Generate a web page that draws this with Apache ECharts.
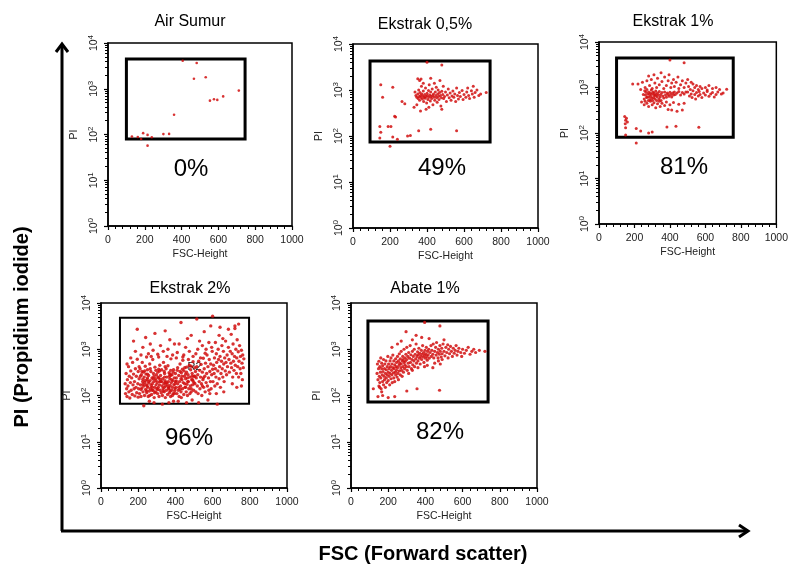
<!DOCTYPE html>
<html>
<head>
<meta charset="utf-8">
<script src="https://cdn.jsdelivr.net/npm/echarts@6/dist/echarts.min.js"></script>
<style>
html,body{margin:0;padding:0;background:#fff;}
#c{width:791px;height:571px;}
</style>
</head>
<body>
<div id="c"></div>
<script>
// ---------- DATA ----------
const titles = ['Air Sumur', 'Ekstrak 0,5%', 'Ekstrak 1%', 'Ekstrak 2%', 'Abate 1%'];
const percents = ['0%', '49%', '81%', '96%', '82%'];
const gateNames = ['', '', '', 'R2', ''];
const xTickValues = [0, 200, 400, 600, 800, 1000];
const yTickValues = [1, 10, 100, 1000, 10000];
const xAxisName = 'FSC-Height';
const yAxisName = 'PI';
const outerXLabel = 'FSC (Forward scatter)';
const outerYLabel = 'PI (Propidium iodide)';

// gates: [[FSC left, PI top], [FSC right, PI bottom]]
const gates = [
  [[100, 4470], [745, 80]],
  [[92, 4260], [741, 74]],
  [[99, 4470], [757, 81]],
  [[102, 4770], [796, 66]],
  [[91, 4070], [737, 72]]
];

const airSumur = [
  [406,4100],[482,3650],[467,1650],[531,1780],[711,910],[626,680],[576,590],[594,570],[554,550],
  [359,270],[332,103],[301,102],[215,98],[191,107],[162,88],[180,80],[215,57],[238,87],[130,90]
];

const ekstrak05 = [
  [400,4000],[480,3500],[150,1300],[160,700],[215,1150],[265,560],[280,500],[225,270],[230,260],
  [145,160],[150,120],[145,90],[190,160],[205,160],[215,95],[240,85],[200,60],[295,100],[310,102],
  [355,130],[420,140],[560,130],[368,1730],
  [335,900],[340,760],[345,700],[350,820],[352,650],[355,1000],[358,720],[360,600],[362,880],[365,760],
  [368,690],[370,1200],[372,820],[375,640],[378,740],[380,950],[382,560],[385,700],[388,800],[390,660],
  [392,1100],[395,720],[398,520],[400,850],[402,760],[405,620],[408,980],[410,700],[412,1300],[415,780],
  [418,580],[420,900],[422,720],[425,650],[428,1050],[430,760],[432,480],[435,820],[438,700],[440,1400],
  [442,600],[445,900],[448,760],[450,1150],[452,680],[455,540],[458,820],[460,1000],[462,720],[465,620],
  [468,880],[470,1600],[472,760],[475,450],[478,680],[480,940],[485,800],[488,1200],[490,650],[495,720],
  [500,900],[505,560],[510,780],[515,1050],[520,680],[525,860],[530,600],[535,740],[540,950],[545,700],
  [550,820],[555,560],[560,1100],[565,760],[570,640],[575,880],[580,720],[590,980],[595,620],[600,800],
  [610,700],[615,900],[620,1100],[625,760],[630,650],[640,960],[645,820],[650,1200],[655,700],[660,880],
  [670,1000],[680,760],[690,820],[720,880],[350,1750],[360,1600],[420,1800],[380,1400],[330,420],
  [345,480],[395,380],[410,420],[365,350],[480,380]
];

const ekstrak1 = [
  [250,700],[255,560],[258,850],[260,500],[262,680],[265,790],[268,600],[270,900],[272,620],[275,720],
  [278,520],[280,800],[282,610],[285,700],[288,540],[290,760],[292,640],[295,880],[298,580],[300,720],
  [302,520],[305,800],[308,600],[310,680],[312,760],[315,560],[318,660],[320,840],[322,700],[325,520],
  [328,620],[330,760],[335,680],[338,560],[340,820],[345,620],[348,700],[350,520],[355,780],[360,650],
  [365,590],[370,800],[375,680],[380,610],[385,760],[390,700],[395,640],[400,790],[405,700],[410,620],
  [415,760],[420,680],[425,800],[430,700],[440,760],[450,820],[460,680],[470,780],[480,720],[490,800],
  [220,1200],[235,900],[245,1300],[260,1000],[270,1400],[280,1800],[285,1100],[295,1500],[300,950],
  [310,1900],[315,1250],[325,1000],[330,1600],[340,1150],[350,2100],[355,1350],[365,950],[370,1700],
  [380,1100],[390,1400],[395,1900],[405,1000],[410,1250],[420,1500],[425,1050],[435,1300],[445,1700],
  [450,950],[460,1150],[470,1400],[480,1000],[490,1250],[500,1500],[505,1050],[520,1300],[530,1200],
  [540,1000],[550,1100],[560,900],[570,1050],[580,950],[600,1000],[610,880],[620,1100],[640,950],
  [660,1000],[680,900],[720,920],
  [500,800],[510,650],[515,900],[520,720],[525,600],[530,850],[540,700],[545,560],[550,780],[560,650],
  [565,820],[570,700],[580,600],[590,760],[600,680],[610,820],[620,640],[630,720],[640,780],[650,620],
  [660,700],[670,800],[690,720],[700,760],
  [240,480],[255,420],[270,450],[280,380],[290,500],[300,420],[310,460],[320,360],[330,440],[340,500],
  [345,380],[355,450],[370,400],[380,480],[390,330],[400,420],[410,320],[420,470],[440,300],[450,430],
  [470,320],[480,450],
  [145,230],[150,190],[148,160],[155,210],[150,130],[160,175],[210,125],[235,110],[210,60],[150,90],
  [280,100],[300,105],[383,135],[434,140],[563,134],[400,4000],[480,3500],[190,1200]
];

const ekstrak2 = [
  [130,180],[132,110],[135,300],[138,140],[140,95],[142,220],[145,160],[148,420],[150,120],[152,260],
  [155,88],[158,190],[160,340],[162,130],[165,240],[168,105],[170,520],[172,170],[175,290],[178,140],
  [180,200],[182,98],[185,380],[188,150],[190,260],[192,115],[195,610],[198,180],[200,330],[200,92],
  [185,900],[175,1500],[195,2700],[160,650],[140,480],
  [202,140],[205,230],[207,110],[210,380],[212,170],[215,95],[217,280],[220,145],[222,520],[224,200],
  [226,120],[228,320],[230,160],[232,250],[234,100],[236,190],[238,430],[240,135],[242,290],[244,170],
  [246,115],[248,220],[250,360],[252,150],[254,95],[256,270],[258,185],[260,125],[262,480],[264,210],
  [266,140],[268,330],[270,165],[272,105],[274,240],[276,180],[278,600],[280,130],[282,300],[284,200],
  [286,90],[288,150],[290,410],[292,230],[294,120],[296,170],[298,280],[300,140],
  [215,750],[225,1100],[240,1800],[255,800],[265,1300],[280,950],[290,2200],[245,680],[270,700],
  [230,60],[260,75],[285,70],[205,420],[235,340],[265,380],[295,350],[250,240],[275,130],[288,115],
  [212,260],[248,160],[262,100],[226,175],[238,210],[296,210],
  [302,190],[304,110],[306,320],[308,150],[310,240],[312,95],[314,170],[316,450],[318,130],[320,270],
  [322,200],[324,115],[326,360],[328,160],[330,100],[332,230],[334,140],[336,520],[338,180],[340,120],
  [342,300],[344,210],[346,90],[348,160],[350,380],[352,130],[354,250],[356,175],[358,105],[360,440],
  [362,200],[364,140],[366,310],[368,115],[370,230],[372,165],[374,95],[376,620],[378,190],[380,130],
  [382,280],[384,150],[386,210],[388,110],[390,360],[392,170],[394,240],[396,125],[398,180],[400,300],
  [305,780],[320,1200],[335,900],[345,2500],[360,1000],[370,1600],[385,750],[395,1300],[310,680],
  [355,700],[330,65],[365,70],[390,75],[315,340],[345,420],[375,350],[340,150],[318,225],[352,190],
  [368,260],[384,100],[398,140],[326,200],[362,155],[388,320],[342,250],[372,125],[306,250],[380,220],
  [402,150],[405,240],[408,110],[410,350],[412,180],[415,130],[418,270],[420,95],[422,200],[425,480],
  [428,160],[430,120],[432,310],[435,220],[438,140],[440,580],[442,190],[445,105],[448,260],[450,400],
  [452,150],[455,230],[458,120],[460,320],[462,175],[465,100],[468,280],[470,200],[472,140],[475,450],
  [478,250],[480,160],[482,360],[485,120],[488,220],[490,300],[492,170],[495,540],[498,130],[500,260],
  [410,850],[420,1300],[430,3800],[445,750],[455,1100],[465,1700],[475,900],[485,2000],[495,700],
  [405,650],[440,680],[470,600],[415,75],[460,70],[490,80],[425,330],[455,290],[485,430],[412,400],
  [438,370],[466,200],[492,220],[450,180],[478,110],[500,190],[418,150],[432,90],[446,340],[505,400],
  [505,180],[508,330],[510,120],[512,240],[515,420],[518,160],[520,280],[522,110],[525,550],[528,200],
  [530,350],[532,140],[535,250],[538,470],[540,180],[542,100],[545,320],[548,220],[550,640],[552,150],
  [555,380],[558,260],[560,120],[562,500],[565,190],[568,300],[570,750],[572,160],[575,420],[578,240],
  [580,130],[582,600],[585,330],[588,200],[590,480],[592,140],[595,280],[598,900],[600,370],
  [510,800],[520,1000],[530,1500],[545,1200],[555,2400],[565,1000],[580,1400],[590,3200],[515,4500],
  [535,650],[560,820],[595,1100],[600,5200],[525,70],[575,80],[505,260],[545,160],[585,110],[550,240],
  [602,200],[605,450],[608,300],[610,650],[612,160],[615,380],[618,250],[620,800],[622,520],[625,180],
  [628,340],[630,1000],[632,600],[635,230],[638,420],[640,700],[642,150],[645,300],[648,550],[650,1200],
  [652,380],[655,250],[658,900],[660,480],[662,200],[665,650],[668,340],[670,1500],[672,520],[675,280],
  [678,750],[680,420],[685,1100],[688,600],[690,320],[695,900],[698,500],[700,2100],
  [615,1400],[635,2000],[655,1700],[640,3000],[685,2700],[625,65],[660,120],[620,110],
  [702,400],[705,800],[708,250],[710,1300],[712,550],[715,350],[718,700],[720,2800],[722,450],[725,1000],
  [728,300],[730,650],[732,1600],[735,420],[738,880],[740,250],[742,550],[745,1200],[748,380],[750,700],
  [752,300],[755,950],[758,500],[760,220],[762,750],[765,400],[768,620],[706,180],[730,150],[755,160],
  [740,3500],[720,3200],
  [215,135],[245,125],[275,150],[305,135],[335,125],[365,145],[395,110],[425,135],[455,150],[485,140],
  [225,225],[255,200],[285,260],[315,200],[345,190],[375,275],[405,205],[435,260],[465,240],[495,205],
  [220,330],[250,290],[280,230],[310,370],[340,330],[370,290],[400,200],[430,230],[460,410],[490,260]
];

const abate1 = [
  [140,300],[142,480],[145,220],[148,380],[150,160],[150,550],[152,260],[155,420],[155,190],[158,320],
  [160,650],[160,240],[162,140],[165,380],[165,500],[168,280],[170,200],[170,440],[172,330],[175,170],
  [175,600],[178,260],[180,380],[180,220],[182,480],[185,300],[185,150],[188,560],[190,240],[190,360],
  [192,190],[195,420],[195,280],[198,700],[200,320],[200,210],[202,480],[205,260],[205,380],[208,170],
  [210,560],[210,300],[212,420],[215,230],[215,650],[218,350],[220,280],[220,480],[222,190],[225,400],
  [225,750],[228,310],[230,240],[230,560],[232,380],[235,460],[235,200],[238,320],[240,620],[240,280],
  [242,420],[245,350],[245,520],[248,250],[250,700],[250,400],[252,300],[255,560],[255,220],[258,450],
  [260,800],[260,340],[262,500],[265,280],[265,620],[268,400],[270,900],[270,480],[272,350],[275,560],
  [275,260],[278,700],[280,420],[280,600],[282,320],[285,520],[285,1000],[288,380],[290,650],[290,460],
  [292,550],[295,780],[298,420],[300,600],[300,1100],[302,350],[305,700],[308,500],[310,850],[312,420],
  [315,640],[318,1200],[320,520],[322,760],[325,380],[328,600],[330,900],[332,460],[335,700],[338,560],
  [340,1000],[342,420],[345,780],[348,620],[350,1300],[352,500],[355,700],[358,880],[360,560],[362,760],
  [365,1050],[368,640],[370,820],[372,480],[375,700],[378,950],[380,600],[382,780],[385,1200],[388,680],
  [390,850],[392,520],[395,740],[398,950],[400,640],[402,800],[405,1100],[408,700],[410,580],[412,900],
  [415,760],[418,1000],[420,640],[395,420],[330,350],[360,400],[310,300],[410,450],
  [425,850],[430,1200],[432,700],[435,950],[440,780],[442,1300],[445,650],[450,900],[455,1100],[458,750],
  [460,1400],[465,850],[468,650],[470,1000],[475,780],[478,1200],[480,900],[485,680],[488,1050],[490,800],
  [495,1300],[500,900],[505,720],[510,1100],[515,850],[520,1250],[522,650],[525,1000],[530,800],[535,1150],
  [540,900],[545,700],[550,1050],[555,820],[560,950],[565,1200],[570,750],[575,900],[580,1050],[590,850],
  [595,700],[600,1000],[610,820],[620,950],[630,1100],[640,780],[650,900],[660,1000],[670,850],[690,950],
  [720,900],[450,500],[470,560],[490,600],[440,400],[480,480],
  [296,2400],[396,3800],[478,3200],[380,1800],[330,1600],[420,1700],[270,1500],[250,1300],[500,1600],
  [350,2000],[220,1100],
  [300,125],[355,140],[476,130],[235,95],[145,95],[154,150],[170,100],[200,90],[120,140],[165,120]
];

const seriesData = [airSumur, ekstrak05, ekstrak1, ekstrak2, abate1];

// ---------- LAYOUT ----------
const panels = [
  {left:108, top:43, width:184, height:183, tx:190, ty:22, px:191, py:169, gw:3, ss:2.6},
  {left:353, top:44, width:185, height:184, tx:425, ty:25, px:442, py:168, gw:3, ss:3},
  {left:599, top:42, width:181, height:182, tx:673, ty:22, px:684, py:167, gw:3, ss:3},
  {left:101, top:303, width:186, height:185, tx:190, ty:289, px:189, py:438, gw:2, ss:3.4},
  {left:351, top:303, width:186, height:185, tx:425, ty:289, px:440, py:432, gw:3, ss:3.2}
];

const FONT = '"Liberation Sans", Arial, sans-serif';
const chart = echarts.init(document.getElementById('c'), null, {renderer:'canvas'});

const grid = [], xAxis = [], yAxis = [], series = [], graphic = [];
panels.forEach((p, i) => {
  grid.push({left:p.left, top:p.top, width:p.width, height:p.height, show:true,
    borderColor:'#000', borderWidth:1.5, backgroundColor:'transparent'});
  xAxis.push({
    type:'value', gridIndex:i, min:xTickValues[0], max:xTickValues[xTickValues.length-1],
    interval:xTickValues[1]-xTickValues[0],
    name:xAxisName, nameLocation:'middle', nameGap:23,
    nameTextStyle:{fontFamily:FONT, fontSize:10.5, color:'#222'},
    axisLine:{show:true, lineStyle:{color:'#000', width:1.5}},
    axisTick:{show:true, length:4, lineStyle:{color:'#000', width:1.2}},
    minorTick:{show:true, splitNumber:5, length:3, lineStyle:{color:'#000', width:1}},
    axisLabel:{fontFamily:FONT, fontSize:10.5, color:'#222', margin:9, formatter: v => String(v)},
    splitLine:{show:false}
  });
  yAxis.push({
    type:'log', logBase:10, gridIndex:i, min:yTickValues[0], max:yTickValues[yTickValues.length-1],
    name:yAxisName, nameLocation:'middle', nameGap:28, nameRotate:90,
    nameTextStyle:{fontFamily:FONT, fontSize:10.5, color:'#222'},
    axisLine:{show:true, lineStyle:{color:'#000', width:1.5}},
    axisTick:{show:true, length:4, lineStyle:{color:'#000', width:1.2}},
    minorTick:{show:true, splitNumber:9, length:3, lineStyle:{color:'#000', width:1}},
    axisLabel:{
      rotate:90, margin:6, color:'#222', fontFamily:FONT,
      formatter: v => '{b|10}{e|' + Math.round(Math.log10(v)) + '}',
      rich:{
        b:{fontSize:10.5, fontFamily:FONT, color:'#222'},
        e:{fontSize:8, fontFamily:FONT, color:'#222', verticalAlign:'top', padding:[0,0,7,0]}
      }
    },
    splitLine:{show:false}
  });
  series.push({
    type:'scatter', xAxisIndex:i, yAxisIndex:i, data:seriesData[i],
    symbol:'circle', symbolSize:p.ss, silent:true, animation:false,
    itemStyle:{color:'#d10f0f', opacity:0.85},
    markArea:{
      silent:true,
      itemStyle:{color:'rgba(0,0,0,0)', borderColor:'#000', borderWidth:p.gw},
      label:{show: gateNames[i] !== '', position:'inside', offset:[10,6],
        fontFamily:FONT, fontSize:11, color:'#111'},
      data:[[{name:gateNames[i], coord:gates[i][0]}, {coord:gates[i][1]}]]
    }
  });
  graphic.push({type:'text', x:p.tx, y:p.ty, silent:true,
    style:{text:titles[i], font:'16px ' + FONT, fill:'#000',
      align:'center', verticalAlign:'middle', textAlign:'center', textVerticalAlign:'middle'}});
  graphic.push({type:'text', x:p.px, y:p.py, silent:true,
    style:{text:percents[i], font:'24px ' + FONT, fill:'#000',
      align:'center', verticalAlign:'middle', textAlign:'center', textVerticalAlign:'middle'}});
});

// outer arrows
graphic.push({type:'polyline', silent:true, shape:{points:[[62,531],[62,44]]},
  style:{stroke:'#000', lineWidth:3, fill:null}});
graphic.push({type:'polyline', silent:true, shape:{points:[[56,52],[62,44],[68,52]]},
  style:{stroke:'#000', lineWidth:3, fill:null}});
graphic.push({type:'polyline', silent:true, shape:{points:[[61,531],[748,531]]},
  style:{stroke:'#000', lineWidth:3, fill:null}});
graphic.push({type:'polyline', silent:true, shape:{points:[[739,525],[748,531],[739,537]]},
  style:{stroke:'#000', lineWidth:3, fill:null}});
graphic.push({type:'text', x:423, y:554, silent:true,
  style:{text:outerXLabel, font:'bold 20px ' + FONT, fill:'#000',
    align:'center', verticalAlign:'middle', textAlign:'center', textVerticalAlign:'middle'}});
graphic.push({type:'text', x:22, y:327, rotation:Math.PI/2, silent:true,
  style:{text:outerYLabel, font:'bold 20px ' + FONT, fill:'#000',
    align:'center', verticalAlign:'middle', textAlign:'center', textVerticalAlign:'middle'}});

chart.setOption({
  animation:false,
  backgroundColor:'#fff',
  grid, xAxis, yAxis, series, graphic
});
</script>
</body>
</html>
